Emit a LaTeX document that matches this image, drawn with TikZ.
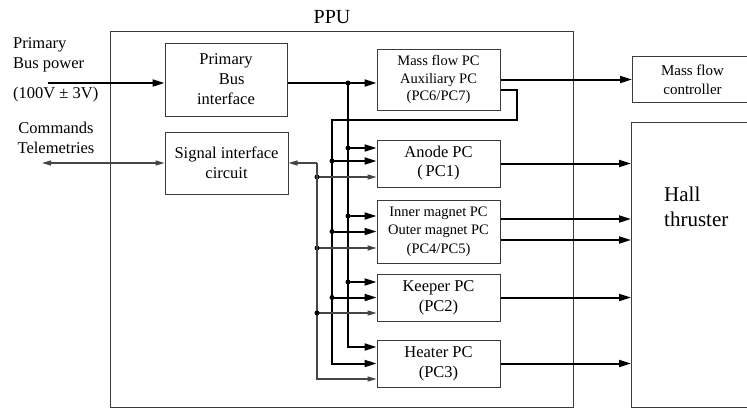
\documentclass[tikz,border=0pt]{standalone}
\usepackage{fontspec}
\setmainfont{Liberation Serif}
\usetikzlibrary{arrows.meta, positioning, calc}

\definecolor{boxgray}{RGB}{60, 60, 60}
\definecolor{wiregray}{RGB}{70, 70, 70}

\newcommand{\mainsize}{\fontsize{16.5}{20}\selectfont}
\newcommand{\pcsize}{\fontsize{16.5}{19}\selectfont}
\newcommand{\smallsize}{\fontsize{14.5}{17.5}\selectfont}
\newcommand{\magsize}{\fontsize{14.5}{18.5}\selectfont}
\newcommand{\loadsize}{\fontsize{15}{19}\selectfont}
\newcommand{\ppusize}{\fontsize{20}{24}\selectfont}
\newcommand{\bigsize}{\fontsize{21}{25}\selectfont}

\begin{document}
\begin{tikzpicture}[x=1pt, y=-1pt,
  block/.style={draw=boxgray, line width=1pt, inner sep=0pt, align=center, minimum width=123pt},
  power/.style={line width=2pt, -{Triangle[length=12pt, width=7pt]}},
  signal/.style={draw=wiregray, line width=1.1pt, -{Triangle[length=9pt, width=5pt]}},
  dot/.style={circle, fill, inner sep=0pt, minimum size=5pt}]
  \useasboundingbox (0,0) rectangle (747,408);

  % PPU frame
  \node[draw=boxgray, line width=1pt, inner sep=0pt, minimum width=463pt, minimum height=376pt] (ppu) at (341.5,219) {};
  \node[font=\ppusize, inner sep=0pt] (ppulabel) at (332,17) {PPU};

  % Inputs on the left
  \node[font=\mainsize, align=left, anchor=west, inner sep=0pt] (pwrtxt) at (13,55) {Primary\\Bus power};
  \node[font=\mainsize, anchor=west, inner sep=0pt] (volttxt) at (13,95) {(100V ± 3V)};
  \node[font=\mainsize, align=center, inner sep=0pt] (cmdtxt) at (56,137.5) {Commands\\Telemetries};

  % Interface blocks
  \node[block, font=\mainsize, minimum width=122pt, minimum height=73pt] (pbi) at (226,79.5) {Primary\\\hspace{0.7em}Bus\\interface};
  \node[block, font=\mainsize, minimum height=62pt] (sic) at (226.5,163) {Signal interface\\circuit};

  % Power converters
  \node[block, font=\smallsize, minimum height=61pt] (mfpc) at (438.5,79.5) {Mass flow PC\\Auxiliary PC\\(PC6/PC7)};
  \node[block, font=\pcsize, minimum height=47pt] (anode) at (438.5,163.5) {Anode PC\\(\,PC1)};
  \node[block, font=\magsize, minimum height=63pt] (magnet) at (438.5,231.5) {Inner magnet PC\\Outer magnet PC\\(PC4/PC5)};
  \node[block, font=\mainsize, minimum height=47pt] (keeper) at (438.5,297.5) {Keeper PC\\(PC2)};
  \node[block, font=\mainsize, minimum height=47pt] (heater) at (438.5,363.5) {Heater PC\\(PC3)};

  % Loads on the right
  \node[block, font=\loadsize, minimum width=120pt, minimum height=46pt, anchor=north west] (mfc) at (632,56) {Mass flow\\controller};
  \node[draw=boxgray, line width=1pt, inner sep=0pt, minimum width=130pt, minimum height=285pt, anchor=north west] (hall) at (631,122) {};
  \node[font=\bigsize, align=left, anchor=west, inner sep=0pt] (halltxt) at (664,207) {Hall\\thruster};

  % Primary bus power
  \coordinate (pwrin) at (48,83);
  \coordinate (bus1) at (348,83);
  \draw[power] (pwrin) -- (pwrin -| pbi.west);
  \draw[power] (pbi.east |- bus1) -- (bus1 -| mfpc.west);
  \node[dot] (bus1dot) at (bus1) {};
  \draw[power] (bus1) |- ([yshift=16.5]heater.west);
  \draw[power] (bus1) |- node[dot, pos=0.5] {} ([yshift=15.5]anode.west);
  \draw[power] (bus1) |- node[dot, pos=0.5] {} ([yshift=15.5]magnet.west);
  \draw[power] (bus1) |- node[dot, pos=0.5] {} ([yshift=15.5]keeper.west);

  % Auxiliary bus
  \coordinate (ret) at (517,120);
  \coordinate (bus2) at (332,120);
  \draw[power] ([yshift=-10.5]mfpc.east) -| (ret) -- (bus2) |- (heater.west);
  \draw[power] (bus2) |- node[dot, pos=0.5] {} ([yshift=2.5]anode.west);
  \draw[power] (bus2) |- node[dot, pos=0.5] {} (magnet.west);
  \draw[power] (bus2) |- node[dot, pos=0.5] {} (keeper.west);

  % Signal lines
  \coordinate (bus3) at (317,163);
  \coordinate (cmd) at (42,163);
  \draw[signal, {Triangle[length=9pt, width=5pt]}-{Triangle[length=9pt, width=5pt]}] (cmd) -- (sic.west);
  \draw[signal] (bus3) -- (sic.east);
  \draw[signal] (bus3) |- ([yshift=-15.5]heater.west);
  \draw[signal] (bus3) |- node[dot, pos=0.5] {} ([yshift=-13.5]anode.west);
  \draw[signal] (bus3) |- node[dot, pos=0.5] {} ([yshift=-16.5]magnet.west);
  \draw[signal] (bus3) |- node[dot, pos=0.5] {} ([yshift=-15.5]keeper.west);

  % Outputs to the loads
  \coordinate (m1) at ([yshift=12.5]magnet.east);
  \coordinate (m2) at ([yshift=-8.5]magnet.east);
  \draw[power] (mfpc.east |- mfc.west) -- (mfc.west);
  \draw[power] (anode.east) -- (anode.east -| hall.west);
  \draw[power] (m1) -- (m1 -| hall.west);
  \draw[power] (m2) -- (m2 -| hall.west);
  \draw[power] (keeper.east) -- (keeper.east -| hall.west);
  \draw[power] (heater.east) -- (heater.east -| hall.west);
\end{tikzpicture}
\end{document}
